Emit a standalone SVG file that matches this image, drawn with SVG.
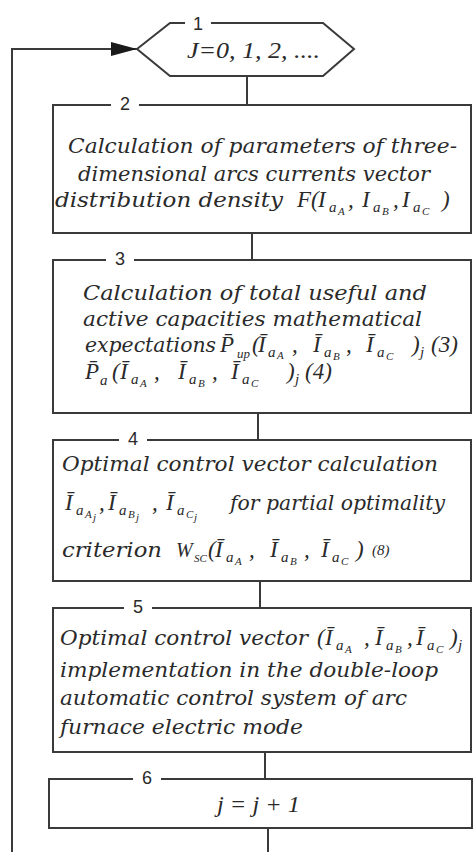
<svg xmlns="http://www.w3.org/2000/svg" width="473" height="852" viewBox="0 0 473 852">
<defs>
<marker id="arr" markerUnits="userSpaceOnUse" markerWidth="28" markerHeight="16" refX="26" refY="7" orient="auto">
<path d="M0,0 L26,7 L0,14 Z" fill="#1a1a1a"/>
</marker>
<style>
.box{fill:#fff;stroke:#3a3a3a;stroke-width:2}
.conn{stroke:#3a3a3a;stroke-width:2;fill:none}
.lbg{fill:#fff;stroke:none}
.num{font-family:"Liberation Sans",Arial,sans-serif;font-size:18px;fill:#2a2a2a;text-anchor:middle}
.t{font-family:"DejaVu Serif",serif;font-style:italic;font-size:20px;fill:#2a2a2a}
.m{font-family:"Liberation Serif",serif;font-style:italic;font-size:23px;fill:#2a2a2a}
.s{font-size:15px}
.ss{font-size:11px}
</style>
</defs>
<rect width="473" height="852" fill="#fff"/>

<g id="connectors">
<path class="conn" d="M12,852 V49 H137" marker-end="url(#arr)"/>
<line class="conn" x1="247" y1="76" x2="247" y2="105"/>
<line class="conn" x1="252" y1="233" x2="252" y2="260"/>
<line class="conn" x1="258" y1="413" x2="258" y2="440"/>
<line class="conn" x1="260" y1="581" x2="260" y2="608"/>
<line class="conn" x1="265" y1="752" x2="265" y2="779"/>
<line class="conn" x1="268" y1="828" x2="268" y2="852"/>
</g>

<g id="node1">
<polygon class="box" points="137,49 170,23 323,23 354,49 323,76 170,76"/>
<rect class="lbg" x="185" y="14" width="26" height="16"/>
<text class="num" x="198" y="30">1</text>
<text class="m" x="187" y="58" font-size="21" textLength="133" lengthAdjust="spacingAndGlyphs">J=0,  1,  2, ....</text>
</g>

<g id="node2">
<rect class="box" x="53" y="105" width="418" height="128"/>
<rect class="lbg" x="111" y="96" width="28" height="16"/>
<text class="num" x="125" y="110">2</text>
<text class="t" x="68" y="153" textLength="389" lengthAdjust="spacingAndGlyphs">Calculation of parameters of three-</text>
<text class="t" x="78" y="181" textLength="352" lengthAdjust="spacingAndGlyphs">dimensional arcs currents vector</text>
<text class="t" x="55" y="207" textLength="228" lengthAdjust="spacingAndGlyphs">distribution density</text>
<text class="m"><tspan x="297" y="207">F(</tspan><tspan x="318" y="207">I</tspan><tspan class="s" x="329" y="212">a</tspan><tspan class="ss" x="338" y="215">A</tspan><tspan x="348" y="207">,</tspan><tspan x="362" y="207">I</tspan><tspan class="s" x="373" y="212">a</tspan><tspan class="ss" x="382" y="215">B</tspan><tspan x="393" y="207">,</tspan><tspan x="402" y="207">I</tspan><tspan class="s" x="413" y="212">a</tspan><tspan class="ss" x="422" y="215">C</tspan><tspan x="442" y="207">)</tspan></text>
</g>

<g id="node3">
<rect class="box" x="53" y="260" width="418" height="153"/>
<rect class="lbg" x="106" y="251" width="28" height="16"/>
<text class="num" x="120" y="265">3</text>
<text class="t" x="83" y="300" textLength="344" lengthAdjust="spacingAndGlyphs">Calculation of total useful and</text>
<text class="t" x="83" y="326" textLength="339" lengthAdjust="spacingAndGlyphs">active capacities mathematical</text>
<text class="t" x="85" y="352" textLength="131" lengthAdjust="spacingAndGlyphs">expectations</text>
<text class="m"><tspan x="220" y="352">P̄</tspan><tspan x="237" y="358" font-size="13">up</tspan><tspan x="252" y="352">(</tspan><tspan x="258" y="352">Ī</tspan><tspan class="s" x="268" y="357">a</tspan><tspan class="ss" x="277" y="359">A</tspan><tspan x="292" y="352">,</tspan><tspan x="313" y="352">Ī</tspan><tspan class="s" x="324" y="357">a</tspan><tspan class="ss" x="333" y="360">B</tspan><tspan x="346" y="352">,</tspan><tspan x="366" y="352">Ī</tspan><tspan class="s" x="377" y="357">a</tspan><tspan class="ss" x="386" y="360">C</tspan><tspan x="412" y="352">)</tspan><tspan class="s" x="420" y="357">j</tspan><tspan x="431" y="352">(3)</tspan></text>
<text class="m"><tspan x="85" y="379">P̄</tspan><tspan class="s" x="100" y="385">a</tspan><tspan x="112" y="379">(</tspan><tspan x="120" y="379">Ī</tspan><tspan class="s" x="131" y="384">a</tspan><tspan class="ss" x="140" y="387">A</tspan><tspan x="154" y="379">,</tspan><tspan x="178" y="379">Ī</tspan><tspan class="s" x="189" y="384">a</tspan><tspan class="ss" x="198" y="387">B</tspan><tspan x="212" y="379">,</tspan><tspan x="231" y="379">Ī</tspan><tspan class="s" x="242" y="384">a</tspan><tspan class="ss" x="251" y="387">C</tspan><tspan x="287" y="379">)</tspan><tspan class="s" x="295" y="384">j</tspan><tspan x="305" y="379">(4)</tspan></text>
</g>

<g id="node4">
<rect class="box" x="53" y="440" width="418" height="141"/>
<rect class="lbg" x="119" y="431" width="28" height="16"/>
<text class="num" x="133" y="445">4</text>
<text class="t" x="62" y="471" textLength="376" lengthAdjust="spacingAndGlyphs">Optimal control vector calculation</text>
<text class="m"><tspan x="65" y="510">Ī</tspan><tspan class="s" x="76" y="515">a</tspan><tspan class="ss" x="85" y="518">A</tspan><tspan class="ss" x="93" y="521">j</tspan><tspan x="99" y="510">,</tspan><tspan x="108" y="510">Ī</tspan><tspan class="s" x="119" y="515">a</tspan><tspan class="ss" x="128" y="518">B</tspan><tspan class="ss" x="136" y="521">j</tspan><tspan x="152" y="510">,</tspan><tspan x="166" y="510">Ī</tspan><tspan class="s" x="177" y="515">a</tspan><tspan class="ss" x="186" y="518">C</tspan><tspan class="ss" x="194" y="521">j</tspan></text>
<text class="t" x="230" y="510" textLength="215" lengthAdjust="spacingAndGlyphs">for partial optimality</text>
<text class="t" x="62" y="557" textLength="100" lengthAdjust="spacingAndGlyphs">criterion</text>
<text class="m"><tspan x="176" y="557" font-size="20">W</tspan><tspan class="ss" x="194" y="562">SC</tspan><tspan x="208" y="557">(</tspan><tspan x="215" y="557">Ī</tspan><tspan class="s" x="226" y="562">a</tspan><tspan class="ss" x="235" y="565">A</tspan><tspan x="249" y="557">,</tspan><tspan x="270" y="557">Ī</tspan><tspan class="s" x="281" y="562">a</tspan><tspan class="ss" x="290" y="565">B</tspan><tspan x="304" y="557">,</tspan><tspan x="321" y="557">Ī</tspan><tspan class="s" x="332" y="562">a</tspan><tspan class="ss" x="341" y="565">C</tspan><tspan x="356" y="557">)</tspan><tspan class="s" x="372" y="555">(8)</tspan></text>
</g>

<g id="node5">
<rect class="box" x="53" y="608" width="418" height="144"/>
<rect class="lbg" x="124" y="599" width="28" height="16"/>
<text class="num" x="138" y="613">5</text>
<text class="t" x="60" y="645" textLength="248" lengthAdjust="spacingAndGlyphs">Optimal control vector</text>
<text class="m"><tspan x="317" y="645">(</tspan><tspan x="325" y="645">Ī</tspan><tspan class="s" x="336" y="650">a</tspan><tspan class="ss" x="345" y="653">A</tspan><tspan x="364" y="645">,</tspan><tspan x="375" y="645">Ī</tspan><tspan class="s" x="386" y="650">a</tspan><tspan class="ss" x="395" y="653">B</tspan><tspan x="407" y="645">,</tspan><tspan x="416" y="645">Ī</tspan><tspan class="s" x="427" y="650">a</tspan><tspan class="ss" x="436" y="653">C</tspan><tspan x="450" y="645">)</tspan><tspan class="s" x="458" y="650">j</tspan></text>
<text class="t" x="60" y="677" textLength="378" lengthAdjust="spacingAndGlyphs">implementation in the double-loop</text>
<text class="t" x="60" y="705" textLength="347" lengthAdjust="spacingAndGlyphs">automatic  control system of arc</text>
<text class="t" x="60" y="734" textLength="243" lengthAdjust="spacingAndGlyphs">furnace  electric mode</text>
</g>

<g id="node6">
<rect class="box" x="49" y="779" width="423" height="49"/>
<rect class="lbg" x="133" y="770" width="28" height="16"/>
<text class="num" x="147" y="784">6</text>
<text class="m" x="217" y="812" font-size="21" textLength="83" lengthAdjust="spacingAndGlyphs">j = j + 1</text>
</g>
</svg>
